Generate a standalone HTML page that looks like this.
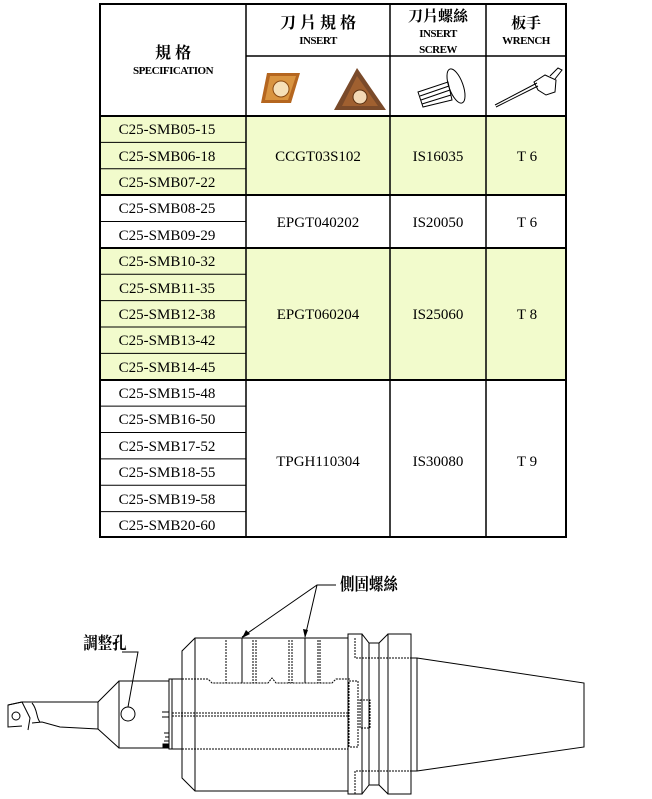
<!DOCTYPE html>
<html><head><meta charset="utf-8"><style>
html,body{margin:0;padding:0;background:#fff;}
svg{display:block}
.t{font-family:"Liberation Serif","Noto Serif CJK SC",serif;font-size:15px;fill:#000;}
.h{font-family:"Liberation Serif","Noto Serif CJK TC",serif;font-weight:bold;fill:#000;}
</style></head><body>
<svg width="652" height="799" viewBox="0 0 652 799" xmlns="http://www.w3.org/2000/svg">
<!-- green fills -->
<rect x="99" y="116" width="468" height="79" fill="#f2fbcc"/>
<rect x="99" y="248" width="468" height="132" fill="#f2fbcc"/>
<g stroke="#000" fill="none">
<rect x="100" y="4" width="466" height="533" stroke-width="2"/>
<line x1="246" y1="4" x2="246" y2="538" stroke-width="1.5"/>
<line x1="390" y1="4" x2="390" y2="538" stroke-width="1.5"/>
<line x1="486" y1="4" x2="486" y2="538" stroke-width="1.5"/>
<line x1="246" y1="56" x2="567" y2="56" stroke-width="1.5"/>
<line x1="99" y1="116" x2="567" y2="116" stroke-width="2"/>
<line x1="99" y1="195" x2="567" y2="195" stroke-width="2"/>
<line x1="99" y1="248" x2="567" y2="248" stroke-width="2"/>
<line x1="99" y1="380" x2="567" y2="380" stroke-width="2"/>
<g stroke-width="1">
<line x1="99" y1="142.4" x2="246" y2="142.4"/><line x1="99" y1="168.8" x2="246" y2="168.8"/>
<line x1="99" y1="221.5" x2="246" y2="221.5"/>
<line x1="99" y1="274.3" x2="246" y2="274.3"/><line x1="99" y1="300.6" x2="246" y2="300.6"/>
<line x1="99" y1="327" x2="246" y2="327"/><line x1="99" y1="353.4" x2="246" y2="353.4"/>
<line x1="99" y1="406.1" x2="246" y2="406.1"/><line x1="99" y1="432.5" x2="246" y2="432.5"/>
<line x1="99" y1="458.9" x2="246" y2="458.9"/><line x1="99" y1="485.3" x2="246" y2="485.3"/>
<line x1="99" y1="511.6" x2="246" y2="511.6"/>
</g></g>
<!-- header text -->
<text class="h" x="173" y="58" font-size="16" text-anchor="middle">規 格</text>
<text class="h" x="173" y="74" font-size="11" text-anchor="middle" letter-spacing="-0.5">SPECIFICATION</text>
<text class="h" x="318" y="28" font-size="16" text-anchor="middle">刀 片 規 格</text>
<text class="h" x="318" y="44" font-size="11" text-anchor="middle" letter-spacing="-0.5">INSERT</text>
<text class="h" x="438" y="21" font-size="15" text-anchor="middle">刀片螺絲</text>
<text class="h" x="438" y="37" font-size="11" text-anchor="middle" letter-spacing="-0.5">INSERT</text>
<text class="h" x="438" y="53" font-size="11" text-anchor="middle" letter-spacing="-0.5">SCREW</text>
<text class="h" x="526" y="28" font-size="15" text-anchor="middle">板手</text>
<text class="h" x="526" y="44" font-size="11" text-anchor="middle" letter-spacing="-0.5">WRENCH</text>
<!-- insert images -->
<polygon points="267,73 300,73 291,103 261,103" fill="#b5661f"/>
<polygon points="270,76 296,76 288,100 265,100" fill="#d99440"/>
<circle cx="281" cy="89" r="8" fill="#f6e0b8" stroke="#8a4a12"/>
<polygon points="357,68 334,110 386,110" fill="#7a4a2a"/>
<polygon points="357,76 342,106 378,106" fill="#a06030"/>
<circle cx="360" cy="97" r="7" fill="#f3d9b5" stroke="#5a3010"/>
<g stroke="#000" fill="none" stroke-width="1">
<path d="M418,92 L448,82 L452,100 L423,107 Z"/>
<path d="M420,96 L449,86 M421,100 L450,90 M422,104 L451,95"/>
<ellipse cx="456" cy="86" rx="7" ry="18" transform="rotate(-20 456 86)"/>
<line x1="495" y1="105" x2="537" y2="83"/><line x1="496" y1="107" x2="538" y2="86"/>
<path d="M534,82 L545,75 L556,80 L555,92 L546,95 L538,90 Z"/>
<path d="M550,76 L558,68 L562,70 L555,79"/>
</g>
<!-- body text -->
<g class="t" text-anchor="middle">
<text x="167" y="134">C25-SMB05-15</text><text x="167" y="161">C25-SMB06-18</text><text x="167" y="187">C25-SMB07-22</text>
<text x="167" y="213">C25-SMB08-25</text><text x="167" y="240">C25-SMB09-29</text>
<text x="167" y="266">C25-SMB10-32</text><text x="167" y="293">C25-SMB11-35</text><text x="167" y="319">C25-SMB12-38</text>
<text x="167" y="345">C25-SMB13-42</text><text x="167" y="372">C25-SMB14-45</text>
<text x="167" y="398">C25-SMB15-48</text><text x="167" y="424">C25-SMB16-50</text><text x="167" y="451">C25-SMB17-52</text>
<text x="167" y="477">C25-SMB18-55</text><text x="167" y="504">C25-SMB19-58</text><text x="167" y="530">C25-SMB20-60</text>
<text x="318" y="161">CCGT03S102</text><text x="438" y="161">IS16035</text><text x="527" y="161">T 6</text>
<text x="318" y="227">EPGT040202</text><text x="438" y="227">IS20050</text><text x="527" y="227">T 6</text>
<text x="318" y="319">EPGT060204</text><text x="438" y="319">IS25060</text><text x="527" y="319">T 8</text>
<text x="318" y="466">TPGH110304</text><text x="438" y="466">IS30080</text><text x="527" y="466">T 9</text>
</g>
<!-- drawing -->
<g stroke="#000" fill="none" stroke-width="1">
<!-- body -->
<path d="M195,638 L348,638 L348,791 L195,791 L182,778 L182,651 Z"/>
<line x1="195" y1="638" x2="195" y2="791"/>
<!-- flanges -->
<rect x="348" y="634" width="14" height="160"/>
<path d="M362,634 L369,643 L369,785 L362,794"/>
<rect x="369" y="643" width="10" height="142"/>
<path d="M379,643 L388,634 M379,785 L388,794"/>
<rect x="388" y="634" width="23" height="160"/>
<!-- taper -->
<path d="M411,658 L417,658 L584,683 L584,747 L417,771 L411,771"/>
<line x1="417" y1="658" x2="417" y2="771"/>
<!-- collar/head -->
<rect x="169" y="679" width="13" height="70"/>
<line x1="172" y1="679" x2="172" y2="749"/>
<rect x="119" y="681" width="50" height="67"/>
<path d="M119,681 L98,702 L98,729 L119,748"/>
<circle cx="128" cy="714" r="7"/>
<!-- bar -->
<path d="M98,702 L22,702 L8,705 L8,727 L22,726 M98,729 L60,727 L42,722 L32,723"/>
<path d="M8,705 L22,702 L30,718 L28,730"/>
<path d="M32,703 C38,710 36,718 40,722"/>
<circle cx="16" cy="716" r="4"/>
<!-- scale ticks -->
<path d="M162,712 L169,712 M162,717 L169,717 M164,733 L169,733 M165,737 L169,737 M164,741 L169,741 M165,745 L169,745" />
<rect x="163" y="744" width="6" height="4" fill="#000"/>
</g>
<g stroke="#000" fill="none" stroke-width="1" stroke-dasharray="2,1">
<path d="M182,679 L208,679 L212,683 L268,683 L272,678 L276,683 L332,683 L336,679 L350,679"/>
<line x1="172" y1="713" x2="348" y2="713"/><line x1="172" y1="716" x2="348" y2="716"/>
<line x1="182" y1="749" x2="348" y2="749"/>
<path d="M355,638 L355,658 L417,658 M355,794 L355,771 L417,771"/>
<rect x="349" y="681" width="9" height="66"/>
<rect x="360" y="700" width="10" height="28"/>
<line x1="226" y1="640" x2="226" y2="683"/><line x1="253" y1="640" x2="253" y2="683"/><line x1="256" y1="640" x2="256" y2="683"/>
<line x1="289" y1="640" x2="289" y2="683"/><line x1="292" y1="640" x2="292" y2="683"/><line x1="318" y1="640" x2="318" y2="683"/><line x1="320" y1="640" x2="320" y2="683"/>
</g>
<g stroke="#000" stroke-width="1" fill="none">
<line x1="242" y1="638" x2="242" y2="683"/><line x1="305" y1="638" x2="305" y2="683"/>
<path d="M336,585 L317,585 L242,637 M317,585 L305,637"/>
<path d="M122,652 L138,652 L128,707"/>
</g>
<polygon points="242,638 246,630 250,634" fill="#000"/>
<polygon points="305,638 303,629 308,630" fill="#000"/>
<text class="h" x="340" y="590" font-size="17" transform="scale(0.85,1) translate(60,0)">側固螺絲</text>
<text class="h" x="83" y="649" font-size="17" transform="scale(0.85,1) translate(15,0)">調整孔</text>
</svg>
</body></html>
